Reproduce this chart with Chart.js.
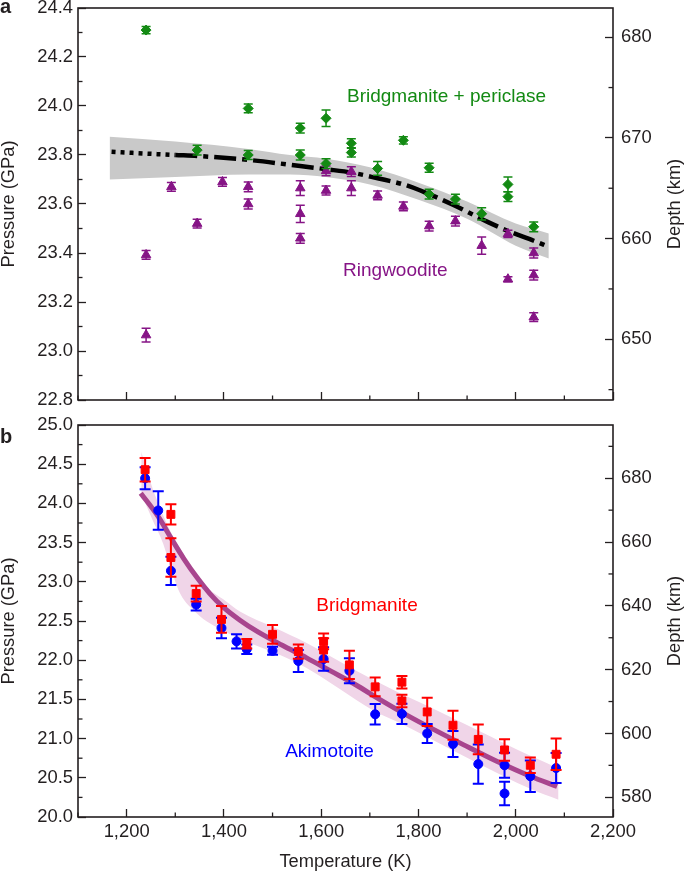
<!DOCTYPE html>
<html>
<head>
<meta charset="utf-8">
<script src="https://cdn.jsdelivr.net/npm/chart.js@4/dist/chart.umd.min.js"></script>
<style>
  html, body { margin: 0; padding: 0; background: #fff; }
  #wrap { position: relative; width: 685px; height: 871px; }
  canvas { position: absolute; left: 0; }
  #chartA { top: 0; }
  #chartB { top: 410px; }
</style>
</head>
<body>
<div id="wrap">
  <canvas id="chartA" width="685" height="410"></canvas>
  <canvas id="chartB" width="685" height="461"></canvas>
</div>
<script>
// ---- ticks ----
const tempTicks = [1200, 1400, 1600, 1800, 2000, 2200];
const pressTicksA = [22.8, 23.0, 23.2, 23.4, 23.6, 23.8, 24.0, 24.2, 24.4];
const depthTicksA = [650, 660, 670, 680];
const pressTicksB = [20.0, 20.5, 21.0, 21.5, 22.0, 22.5, 23.0, 23.5, 24.0, 24.5, 25.0];
const depthTicksB = [580, 600, 620, 640, 660, 680];

// ---- panel a: bridgmanite + periclase (green diamonds) ----
const bpT   = [1240, 1345, 1450, 1450, 1557, 1557, 1610, 1610, 1662, 1662, 1716, 1769, 1822, 1822, 1876, 1930, 1984, 1984, 2037];
const bpP   = [24.31, 23.82, 23.99, 23.80, 23.91, 23.80, 23.95, 23.765, 23.848, 23.81, 23.745, 23.86, 23.748, 23.64, 23.62, 23.56, 23.68, 23.63, 23.507];
const bpErr = [0.015, 0.02, 0.018, 0.018, 0.02, 0.02, 0.034, 0.02, 0.018, 0.018, 0.028, 0.015, 0.018, 0.02, 0.02, 0.025, 0.03, 0.02, 0.02];

// ---- panel a: ringwoodite (purple triangles) ----
const rwT   = [1240, 1240, 1292, 1345, 1397, 1450, 1450, 1557, 1557, 1557, 1610, 1610, 1662, 1662, 1716, 1769, 1822, 1876, 1930, 1984, 1984, 2037, 2037, 2037];
const rwP   = [23.392, 23.065, 23.67, 23.52, 23.69, 23.67, 23.60, 23.665, 23.56, 23.46, 23.655, 23.735, 23.732, 23.665, 23.635, 23.59, 23.51, 23.53, 23.43, 23.478, 23.293, 23.40, 23.31, 23.138];
const rwErr = [0.018, 0.028, 0.018, 0.018, 0.018, 0.02, 0.02, 0.03, 0.035, 0.02, 0.018, 0.02, 0.02, 0.03, 0.018, 0.018, 0.02, 0.02, 0.035, 0.015, 0.01, 0.02, 0.02, 0.018];

// ---- panel a: boundary fit and its uncertainty ----
const fitAT = [1169, 1300, 1345, 1450, 1557, 1610, 1663, 1716, 1769, 1804, 1872, 1941, 1984, 2037, 2067];
const fitAP = [23.813, 23.80, 23.796, 23.78, 23.755, 23.742, 23.728, 23.705, 23.68, 23.655, 23.596, 23.528, 23.49, 23.45, 23.426];
const bandAT  = [1165, 1300, 1450, 1536, 1610, 1700, 1803, 1900, 2000, 2068];
const bandAUp = [23.875, 23.855, 23.825, 23.80, 23.785, 23.75, 23.685, 23.61, 23.52, 23.48];
const bandALo = [23.70, 23.71, 23.72, 23.72, 23.71, 23.68, 23.615, 23.54, 23.43, 23.378];

// ---- panel b: bridgmanite (red squares) ----
const brT   = [1238, 1291, 1291, 1343, 1395, 1447, 1500, 1553, 1605, 1605, 1658, 1711, 1766, 1766, 1818, 1871, 1923, 1977, 2030, 2083];
const brP   = [24.43, 23.86, 23.31, 22.85, 22.52, 22.21, 22.33, 22.11, 22.24, 22.13, 21.94, 21.66, 21.72, 21.48, 21.34, 21.17, 20.99, 20.855, 20.66, 20.80];
const brErr = [0.15, 0.13, 0.245, 0.1, 0.17, 0.06, 0.12, 0.09, 0.1, 0.15, 0.18, 0.12, 0.08, 0.08, 0.18, 0.185, 0.19, 0.136, 0.1, 0.2];

// ---- panel b: akimotoite (blue circles) ----
const akT   = [1238, 1265, 1291, 1343, 1395, 1426, 1447, 1500, 1553, 1605, 1658, 1711, 1766, 1818, 1871, 1923, 1977, 1977, 2030, 2083];
const akP   = [24.32, 23.91, 23.14, 22.71, 22.41, 22.24, 22.14, 22.12, 21.99, 22.015, 21.865, 21.31, 21.315, 21.065, 20.93, 20.675, 20.66, 20.30, 20.52, 20.625];
const akErr = [0.14, 0.245, 0.18, 0.075, 0.13, 0.09, 0.06, 0.05, 0.14, 0.15, 0.16, 0.13, 0.13, 0.12, 0.166, 0.25, 0.16, 0.15, 0.2, 0.19];

// ---- panel b: fit and band ----
const fitBT = [1229, 1265, 1291, 1317, 1344, 1371, 1398, 1433, 1470, 1520, 1570, 1620, 1670, 1720, 1776, 1824, 1893, 1961, 2030, 2085];
const fitBP = [24.13, 23.83, 23.56, 23.30, 23.06, 22.85, 22.68, 22.51, 22.36, 22.19, 22.03, 21.86, 21.69, 21.50, 21.30, 21.14, 20.92, 20.71, 20.52, 20.39];
const bandBT  = [1230, 1254, 1275, 1292, 1310, 1344, 1371, 1398, 1433, 1502, 1570, 1639, 1707, 1762, 1818, 1924, 2030, 2088];
const bandBUp = [24.66, 24.18, 23.85, 23.62, 23.42, 23.08, 22.90, 22.78, 22.62, 22.42, 22.22, 21.98, 21.75, 21.58, 21.42, 21.10, 20.78, 20.62];
const bandBLo = [24.12, 23.78, 23.49, 23.15, 22.85, 22.60, 22.47, 22.38, 22.27, 22.10, 21.90, 21.63, 21.36, 21.20, 21.02, 20.68, 20.36, 20.22];

const FONT = '"Liberation Sans", Arial, Helvetica, sans-serif';
const INK = '#231f20';
const GREEN = '#138a13';
const PURPLE = '#861486';
const RED = '#ff0000';
const BLUE = '#0000ff';
Chart.defaults.font.family = FONT;
Chart.defaults.color = INK;

function pts(xs, ys) {
  return xs.map((x, i) => ({ x: x, y: ys[i] }));
}
function comma(v) {
  return String(v).replace(/\B(?=(\d{3})+(?!\d))/g, ',');
}

// fixed axis boxes so the plot areas line up with the original
function fixBox(w, h) {
  return function (scale) {
    if (w != null) scale.width = w;
    if (h != null) scale.height = h;
    scale.paddingTop = 0; scale.paddingBottom = 0;
    scale.paddingLeft = 0; scale.paddingRight = 0;
  };
}
function useTicks(values) {
  return function (scale) { scale.ticks = values.map(v => ({ value: v })); };
}
function axis(pos, min, max, ticks, fmt, pad, box, title) {
  return {
    type: 'linear', position: pos, min: min, max: max,
    afterBuildTicks: useTicks(ticks),
    afterFit: box,
    grid: { drawOnChartArea: false, tickLength: -8, tickColor: INK, tickWidth: 1.3 },
    border: { display: false },
    ticks: { autoSkip: false, maxRotation: 0, padding: pad, color: INK, font: { size: 18.4 }, callback: fmt },
    title: title
      ? { display: true, text: title, color: INK, font: { size: 18.3, lineHeight: 1 }, padding: 0 }
      : { display: false }
  };
}

function markerSet(label, xs, ys, errs, color, style, r) {
  return {
    label: label, data: pts(xs, ys), errors: errs,
    pointStyle: style, pointRadius: r, pointBorderWidth: 1,
    pointBackgroundColor: color, pointBorderColor: color,
    borderColor: color, backgroundColor: color
  };
}
function curve(xs, ys, extra) {
  return Object.assign({
    type: 'line', data: pts(xs, ys), pointRadius: 0,
    cubicInterpolationMode: 'monotone', fill: false
  }, extra);
}

// error bars, minor ticks, frame and text labels
const decorations = {
  id: 'decorations',
  beforeDatasetDraw(chart, args, opts) {
    const ds = chart.data.datasets[args.index];
    if (!ds.errors) return;
    const ctx = chart.ctx, xs = chart.scales.x, ys = chart.scales.y;
    const c = opts.cap / 2;
    ctx.save();
    ctx.strokeStyle = ds.borderColor;
    ctx.lineWidth = opts.errWidth;
    ds.data.forEach((p, i) => {
      const px = xs.getPixelForValue(p.x);
      const top = ys.getPixelForValue(p.y + ds.errors[i]);
      const bot = ys.getPixelForValue(p.y - ds.errors[i]);
      ctx.beginPath();
      ctx.moveTo(px, top); ctx.lineTo(px, bot);
      ctx.moveTo(px - c, top); ctx.lineTo(px + c, top);
      ctx.moveTo(px - c, bot); ctx.lineTo(px + c, bot);
      ctx.stroke();
    });
    ctx.restore();
  },
  afterDraw(chart, args, opts) {
    const ctx = chart.ctx, a = chart.chartArea;
    ctx.save();
    ctx.strokeStyle = INK;
    ctx.lineWidth = 1.3;
    // minor ticks
    Object.keys(opts.minor).forEach(id => {
      const s = chart.scales[id], step = opts.minor[id];
      const majors = s.ticks.map(t => t.value);
      for (let k = Math.ceil(s.min / step - 1e-6); k * step <= s.max + 1e-6; k++) {
        const v = k * step;
        if (majors.some(m => Math.abs(m - v) < step / 10)) continue;
        const p = s.getPixelForValue(v);
        ctx.beginPath();
        if (id === 'x') { ctx.moveTo(p, a.bottom); ctx.lineTo(p, a.bottom - 4.5); }
        else if (id === 'y') { ctx.moveTo(a.left, p); ctx.lineTo(a.left + 4.5, p); }
        else { ctx.moveTo(a.right, p); ctx.lineTo(a.right - 4.5, p); }
        ctx.stroke();
      }
    });
    // frame
    ctx.lineWidth = 1.6;
    ctx.strokeRect(a.left, a.top, a.right - a.left, a.bottom - a.top);
    // right axis title
    ctx.fillStyle = INK;
    ctx.font = '18.3px ' + FONT;
    ctx.textAlign = 'center';
    ctx.textBaseline = 'middle';
    ctx.save();
    ctx.translate(opts.rightTitleX, (a.top + a.bottom) / 2);
    ctx.rotate(-Math.PI / 2);
    ctx.fillText(opts.rightTitle, 0, 0);
    ctx.restore();
    // panel letter
    ctx.font = 'bold 20px ' + FONT;
    ctx.textAlign = 'left';
    ctx.textBaseline = 'alphabetic';
    ctx.fillText(opts.letter, 0, opts.letterY);
    // series labels
    ctx.font = '19px ' + FONT;
    ctx.textBaseline = 'middle';
    opts.notes.forEach(n => {
      ctx.fillStyle = n.color;
      ctx.fillText(n.text, chart.scales.x.getPixelForValue(n.x), chart.scales.y.getPixelForValue(n.y));
    });
    ctx.restore();
  }
};

const common = {
  responsive: false,
  animation: false,
  events: [],
  plugins: { legend: { display: false }, tooltip: { enabled: false } }
};

new Chart(document.getElementById('chartA'), {
  type: 'scatter',
  plugins: [decorations],
  data: {
    datasets: [
      markerSet('Bridgmanite + periclase', bpT, bpP, bpErr, GREEN, 'rectRot', 5),
      markerSet('Ringwoodite', rwT, rwP, rwErr, PURPLE, 'triangle', 5.5),
      curve(fitAT, fitAP, {
        borderColor: '#000', borderWidth: 4.5,
        segment: { borderDash: c => (c.p0.parsed.x < 1300 ? [4, 5] : [22, 6, 5, 6]) }
      }),
      curve(bandAT, bandAUp, { borderWidth: 0, borderColor: 'transparent', backgroundColor: '#c9c9c9', fill: '+1' }),
      curve(bandAT, bandALo, { borderWidth: 0, borderColor: 'transparent' })
    ]
  },
  options: Object.assign({}, common, {
    layout: { padding: { top: 8, left: 0, right: 0, bottom: 0 } },
    scales: {
      x: axis('bottom', 1100, 2200, tempTicks, () => '', 12, fixBox(null, 10)),
      y: axis('left', 22.8, 24.4, pressTicksA, v => v.toFixed(1), 13, fixBox(78), 'Pressure (GPa)'),
      y2: axis('right', 643.97, 682.9, depthTicksA, v => String(v), 16, fixBox(72))
    },
    plugins: Object.assign({}, common.plugins, {
      decorations: {
        cap: 9, errWidth: 1.5,
        minor: { x: 100, y: 0.1, y2: 5 },
        rightTitle: 'Depth (km)', rightTitleX: 675,
        letter: 'a', letterY: 13,
        notes: [
          { text: 'Bridgmanite + periclase', x: 1653, y: 24.037, color: GREEN },
          { text: 'Ringwoodite', x: 1645, y: 23.327, color: PURPLE }
        ]
      }
    })
  })
});

new Chart(document.getElementById('chartB'), {
  type: 'scatter',
  plugins: [decorations],
  data: {
    datasets: [
      markerSet('Bridgmanite', brT, brP, brErr, RED, 'rect', 5.6),
      markerSet('Akimotoite', akT, akP, akErr, BLUE, 'circle', 4.5),
      curve(fitBT, fitBP, { borderColor: '#a8458e', borderWidth: 5 }),
      curve(bandBT, bandBUp, { borderWidth: 0, borderColor: 'transparent', backgroundColor: '#f0d5e8', fill: '+1' }),
      curve(bandBT, bandBLo, { borderWidth: 0, borderColor: 'transparent' })
    ]
  },
  options: Object.assign({}, common, {
    layout: { padding: { top: 15, left: 0, right: 0, bottom: 0 } },
    scales: {
      x: axis('bottom', 1100, 2200, tempTicks, v => comma(v), 12, fixBox(null, 54), 'Temperature (K)'),
      y: axis('left', 20, 25, pressTicksB, v => v.toFixed(1), 13, fixBox(78), 'Pressure (GPa)'),
      y2: axis('right', 573.8, 696.7, depthTicksB, v => String(v), 16, fixBox(72))
    },
    plugins: Object.assign({}, common.plugins, {
      decorations: {
        cap: 11, errWidth: 2,
        minor: { x: 100, y: 0.25, y2: 10 },
        rightTitle: 'Depth (km)', rightTitleX: 675,
        letter: 'b', letterY: 33,
        notes: [
          { text: 'Bridgmanite', x: 1590, y: 22.70, color: RED },
          { text: 'Akimotoite', x: 1526, y: 20.83, color: BLUE }
        ]
      }
    })
  })
});
</script>
</body>
</html>
